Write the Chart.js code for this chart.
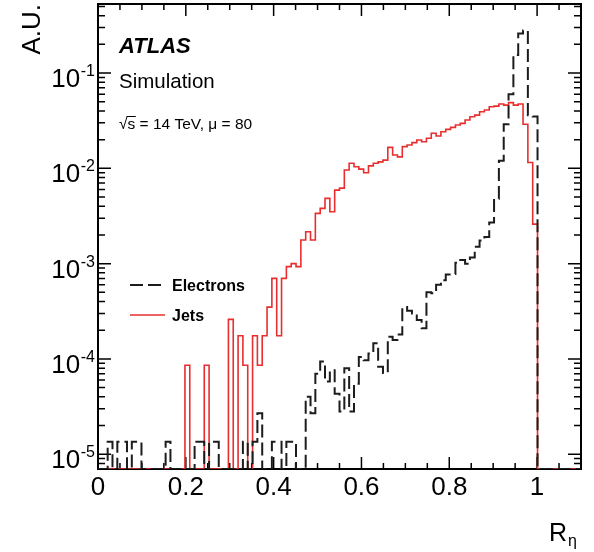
<!DOCTYPE html>
<html><head><meta charset="utf-8">
<script src="https://cdn.jsdelivr.net/npm/chart.js@4.4.1/dist/chart.umd.min.js"></script>
<style>html,body{margin:0;padding:0;background:#fff;}canvas{display:block;}</style>
</head><body>
<canvas id="c" width="594" height="552"></canvas>
<script>
// ---- histogram definition: 100 bins between 0 and 1.1 ----
const binLow = 0;
const binHigh = 1.1;
const nBins = 100;

// ---- axis ticks ----
const xTickValues = [0, 0.2, 0.4, 0.6, 0.8, 1];
const xTickLabels = ['0', '0.2', '0.4', '0.6', '0.8', '1'];
const yTickValues = [1e-5, 1e-4, 1e-3, 1e-2, 1e-1];
const yTickBase = '10';
const yTickExponents = ['-5', '-4', '-3', '-2', '-1'];
const yMin = 7e-6;
const yMax = 0.53;

// ---- series (bin contents, A.U.) ----
const seriesNames = ['Electrons', 'Jets'];
const electrons = [
  0, 0, 1.35e-5, 0, 1.35e-5, 1.35e-5, 0, 1.35e-5, 1.35e-5, 0,
  0, 0, 0, 0, 1.35e-5, 0, 0, 0, 0, 0,
  1.35e-5, 1.35e-5, 0, 1.35e-5, 1.35e-5, 0, 0, 0, 0, 0,
  1.35e-5, 0, 1.35e-5, 2.7e-5, 0, 0, 1.35e-5, 1.35e-5, 0, 1.35e-5,
  1.35e-5, 0, 0, 4.0e-5, 2.7e-5, 7.0e-5, 9.4e-5, 5.8e-5, 7.6e-5, 4.3e-5,
  2.8e-5, 8.0e-5, 2.8e-5, 5.5e-5, 1.05e-4, 9.7e-5, 1.14e-4, 1.46e-4, 8.3e-5, 7.1e-5,
  1.71e-4, 1.58e-4, 1.8e-4, 3.5e-4, 3.2e-4, 3.0e-4, 2.56e-4, 2.1e-4, 5.0e-4, 4.9e-4,
  6.0e-4, 6.7e-4, 7.7e-4, 7.8e-4, 1.02e-3, 1.09e-3, 1.0e-3, 1.16e-3, 1.5e-3, 1.75e-3,
  1.9e-3, 2.7e-3, 4.8e-3, 1.2e-2, 2.9e-2, 6.0e-2, 0.155, 0.26, 0.28, 3.6e-2,
  3.5e-2, 0, 0, 0, 0, 0, 0, 0, 0, 0
];
const jets = [
  0, 0, 0, 0, 0, 0, 0, 0, 0, 0,
  0, 0, 0, 0, 0, 0, 0, 0, 8.6e-5, 0,
  0, 0, 8.6e-5, 0, 0, 0, 0, 2.6e-4, 0, 1.75e-4,
  8.6e-5, 0, 1.75e-4, 8.6e-5, 1.75e-4, 3.5e-4, 7.0e-4, 1.75e-4, 7.0e-4, 9.3e-4,
  1.0e-3, 9.3e-4, 1.77e-3, 2.16e-3, 1.77e-3, 3.37e-3, 3.8e-3, 4.84e-3, 3.5e-3, 5.9e-3,
  6.2e-3, 9.6e-3, 1.13e-2, 1.04e-2, 9.8e-3, 9.0e-3, 1.06e-2, 1.13e-2, 1.17e-2, 1.22e-2,
  1.66e-2, 1.38e-2, 1.32e-2, 1.69e-2, 1.76e-2, 1.86e-2, 1.98e-2, 1.9e-2, 2.07e-2, 2.33e-2,
  2.18e-2, 2.42e-2, 2.56e-2, 2.69e-2, 2.85e-2, 2.96e-2, 3.21e-2, 3.48e-2, 3.62e-2, 3.93e-2,
  4.09e-2, 4.43e-2, 4.5e-2, 4.73e-2, 4.6e-2, 4.89e-2, 4.6e-2, 4.73e-2, 2.9e-2, 1.15e-2,
  2.6e-3, 0, 0, 0, 0, 0, 0, 0, 0, 0
];

// ---- build step outlines from the bins ----
const edges = Array.from({length: nBins + 1}, (_, i) => binLow + (binHigh - binLow) * i / nBins);
function histPoints(vals) {
  const pts = [];
  vals.forEach((v, i) => {
    const y = v > 0 ? v : yMin;
    pts.push({x: edges[i], y: y});
    pts.push({x: edges[i + 1], y: y});
  });
  return pts;
}

const FONT = "'Liberation Sans', Arial, Helvetica, sans-serif";
const BLACK_LINE = '#1c1c1c';
const RED_LINE = 'rgb(232,46,46)';

const framePlugin = {
  id: 'frame',
  beforeDatasetsDraw(chart) {
    const {ctx, chartArea: a, scales: {x, y}} = chart;
    ctx.save();
    ctx.strokeStyle = '#000';
    ctx.lineWidth = 1.5;
    ctx.beginPath();
    for (let k = 0; k <= 22; k++) {
      const v = k * 0.05;
      const px = x.getPixelForValue(v);
      if (px < a.left - 0.5 || px > a.right + 0.5) continue;
      const L = (k % 4 === 0) ? 12 : 6;
      ctx.moveTo(px, a.bottom); ctx.lineTo(px, a.bottom - L);
      ctx.moveTo(px, a.top); ctx.lineTo(px, a.top + L);
    }
    for (let n = -6; n <= 0; n++) {
      for (let m = 1; m <= 9; m++) {
        const v = m * Math.pow(10, n);
        if (v < yMin * 0.999 || v > yMax) continue;
        const py = y.getPixelForValue(v);
        const L = (m === 1) ? 13 : 7;
        ctx.moveTo(a.left, py); ctx.lineTo(a.left + L, py);
        ctx.moveTo(a.right, py); ctx.lineTo(a.right - L, py);
      }
    }
    ctx.stroke();
    ctx.lineWidth = 2;
    ctx.strokeRect(a.left, a.top, a.right - a.left, a.bottom - a.top);
    ctx.restore();
  },
  afterDraw(chart) {
    const {ctx, chartArea: a, scales: {y}} = chart;
    ctx.save();
    ctx.fillStyle = '#000';
    ctx.textBaseline = 'alphabetic';
    // y tick labels 10^n
    yTickValues.forEach((v, i) => {
      const py = y.getPixelForValue(v);
      const xr = a.left - 3;
      ctx.font = "16px " + FONT;
      ctx.textAlign = 'right';
      ctx.fillText(yTickExponents[i], xr, py + 3);
      const we = ctx.measureText(yTickExponents[i]).width;
      ctx.font = "26px " + FONT;
      ctx.fillText(yTickBase, xr - we - 0.5, py + 14);
    });
    ctx.textAlign = 'left';
    // ATLAS label
    ctx.font = "italic bold 22px " + FONT;
    ctx.fillText('ATLAS', a.left + 21, 53);
    ctx.font = "20.5px " + FONT;
    ctx.fillText('Simulation', a.left + 21, 88);
    ctx.font = "15.5px " + FONT;
    const tx = a.left + 21, ty = 129;
    const wRoot = ctx.measureText('\u221A').width;
    const wS = ctx.measureText('s').width;
    ctx.fillText('\u221As = 14 TeV, \u03BC = 80', tx, ty);
    ctx.lineWidth = 1;
    ctx.beginPath();
    ctx.moveTo(tx + wRoot - 1, ty - 12.5);
    ctx.lineTo(tx + wRoot + wS + 0.5, ty - 12.5);
    ctx.strokeStyle = '#000';
    ctx.stroke();
    // legend
    const ds = chart.data.datasets;
    const legY = [285, 315];
    ds.forEach((d, i) => {
      ctx.save();
      ctx.strokeStyle = d.borderColor;
      ctx.lineWidth = d.borderWidth;
      ctx.setLineDash(d.borderDash || []);
      ctx.beginPath();
      ctx.moveTo(a.left + 32, legY[i]);
      ctx.lineTo(a.left + 67, legY[i]);
      ctx.stroke();
      ctx.restore();
      ctx.font = "bold 16px " + FONT;
      ctx.fillStyle = '#000';
      ctx.fillText(d.label, a.left + 74, legY[i] + 6);
    });
    // x-axis title R_eta
    ctx.font = "25px " + FONT;
    ctx.fillText('R', 549, 541);
    const wR = ctx.measureText('R').width;
    ctx.font = "16px " + FONT;
    ctx.fillText('\u03B7', 549 + wR + 1, 546);
    ctx.restore();
  }
};

new Chart(document.getElementById('c'), {
  type: 'line',
  data: {
    datasets: [
      {label: seriesNames[0], data: histPoints(electrons), borderColor: BLACK_LINE, borderWidth: 2,
       borderDash: [13, 5], pointRadius: 0, tension: 0, fill: false},
      {label: seriesNames[1], data: histPoints(jets), borderColor: RED_LINE, borderWidth: 1.6,
       pointRadius: 0, tension: 0, fill: false}
    ]
  },
  options: {
    responsive: false,
    animation: false,
    devicePixelRatio: 1,
    layout: {padding: {left: 0, right: 13, top: 4, bottom: 0}},
    plugins: {legend: {display: false}, tooltip: {enabled: false}},
    scales: {
      x: {
        type: 'linear', min: binLow, max: binHigh,
        grid: {display: false, drawTicks: false},
        border: {display: false},
        afterBuildTicks: (s) => { s.ticks = xTickValues.map(v => ({value: v})); },
        afterFit: (s) => { s.height = 83; s.paddingLeft = 0; s.paddingRight = 0; },
        ticks: {
          autoSkip: false, maxRotation: 0, padding: 3, color: '#000',
          font: {family: FONT, size: 26},
          callback: (v, i) => xTickLabels[i]
        }
      },
      y: {
        type: 'logarithmic', min: yMin, max: yMax,
        grid: {display: false, drawTicks: false},
        border: {display: false},
        afterBuildTicks: (s) => { s.ticks = yTickValues.map(v => ({value: v})); },
        afterFit: (s) => { s.width = 98; s.paddingTop = 0; s.paddingBottom = 0; },
        title: {display: true, text: 'A.U.', align: 'end', color: '#000',
                font: {family: FONT, size: 26}, padding: {top: 17, bottom: 0}},
        ticks: {display: false}
      }
    }
  },
  plugins: [framePlugin]
});
</script>
</body></html>
